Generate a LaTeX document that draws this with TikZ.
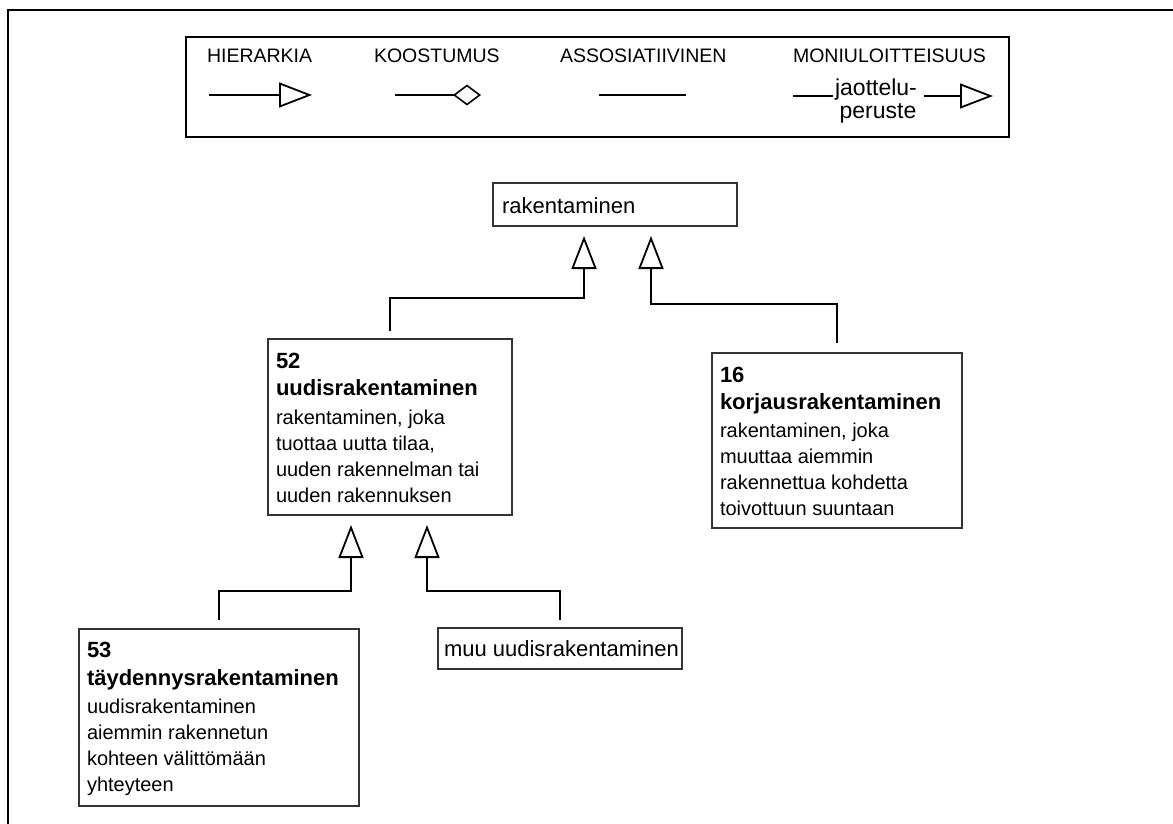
\documentclass[tikz,border=0pt]{standalone}
\usepackage{fontspec}
\setmainfont{Liberation Sans}
\usetikzlibrary{arrows.meta}
\begin{document}
\begin{tikzpicture}[x=1pt,y=-1pt,
  frame/.style={line width=2.2pt, black},
  box/.style={draw=black!80, line width=1.4pt, rectangle, inner sep=0pt, outer sep=0pt},
  txt/.style={anchor=base west, inner sep=0pt, outer sep=0pt},
  legtxt/.style={anchor=base west, inner sep=0pt, outer sep=0pt, font=\fontsize{19.5}{23}\selectfont},
  jtxt/.style={anchor=base, inner sep=0pt, outer sep=0pt, font=\fontsize{23}{23}\selectfont},
  conn/.style={line width=1.9pt, black},
  hier/.style={conn, -{Triangle[open,length=33pt,width=25pt,line width=1.8pt]}, shorten <=8pt, shorten >=10pt},
  legarrow/.style={conn, -{Triangle[open,length=33pt,width=25pt,line width=1.8pt]}},
  legdiamond/.style={conn, -{Diamond[open,length=28pt,width=21pt,line width=1.6pt]}},
  big/.style={font=\fontsize{22}{26}\selectfont}
]
\useasboundingbox (0,0) rectangle (1173,823);
% outer frame (top and left edges)
\coordinate (fTL) at (8,10);
\coordinate (fTR) at (1174,10);
\coordinate (fBL) at (8,824);
\draw[frame] (fTR) -- (fTL) -- (fBL);

% legend
\node[draw=black, line width=2.2pt, minimum width=823pt, minimum height=100pt, inner sep=0pt] (legend) at (597.5,87) {};
\node[legtxt] (lh) at (207,62.5) {HIERARKIA};
\node[legtxt] (lk) at (374,62.5) {KOOSTUMUS};
\node[legtxt] (la) at (560,62.5) {ASSOSIATIIVINEN};
\node[legtxt] (lm) at (793,62.5) {MONIULOITTEISUUS};
\coordinate (h1) at (209,95); \coordinate (h2) at (312,95);
\draw[legarrow] (h1) -- (h2);
\coordinate (k1) at (395,95); \coordinate (k2) at (481,95);
\draw[legdiamond] (k1) -- (k2);
\coordinate (a1) at (599,95); \coordinate (a2) at (686,95);
\draw[conn] (a1) -- (a2);
\node[jtxt] (jt) at (876,95) {jaottelu-};
\node[jtxt] (jp) at (878,118.5) {peruste};
\coordinate (m1) at (793,96);
\draw[conn] (m1) -- ([xshift=-2pt,yshift=-1pt]jt.base west);
\coordinate (m2) at (993,96);
\draw[legarrow] ([xshift=7pt,yshift=-1pt]jt.base east) -- (m2);

% boxes
\node[box, minimum width=244pt, minimum height=43pt] (rak) at (615,204.5) {};
\node[txt, big] (trak) at (502,213) {rakentaminen};

\node[box, minimum width=244pt, minimum height=176pt] (b52) at (390,427) {};
\node[txt] (t52) at (276,368) {\parbox[t]{232pt}{\raggedright\parskip=0pt
  \fontsize{22}{27.5}\selectfont\bfseries 52\\uudisrakentaminen\par\vspace{2.5pt}
  \fontsize{20}{26}\selectfont\mdseries rakentaminen, joka\\tuottaa uutta tilaa,\\uuden rakennelman tai\\uuden rakennuksen}};

\node[box, minimum width=250pt, minimum height=175pt] (b16) at (837,440.5) {};
\node[txt] (t16) at (720,382) {\parbox[t]{238pt}{\raggedright\parskip=0pt
  \fontsize{22}{27.5}\selectfont\bfseries 16\\korjausrakentaminen\par\vspace{1.5pt}
  \fontsize{20}{26}\selectfont\mdseries rakentaminen, joka\\muuttaa aiemmin\\rakennettua kohdetta\\toivottuun suuntaan}};

\node[box, minimum width=280pt, minimum height=177pt] (b53) at (219,717.5) {};
\node[txt] (t53) at (87,657) {\parbox[t]{268pt}{\raggedright\parskip=0pt
  \fontsize{22}{28}\selectfont\bfseries 53\\täydennysrakentaminen\par\vspace{2pt}
  \fontsize{20}{26}\selectfont\mdseries uudisrakentaminen\\aiemmin rakennetun\\kohteen välittömään\\yhteyteen}};

\node[box, minimum width=244pt, minimum height=41pt] (muu) at (560,648.5) {};
\node[txt, big] (tmuu) at (444,656.5) {muu uudisrakentaminen};

% connectors
\draw[hier] (b52.north) |- ([shift={(-31pt,-72pt)}]rak.south) -- ([xshift=-31pt]rak.south);
\draw[hier, shorten <=10pt] (b16.north) |- ([shift={(36pt,-78pt)}]rak.south) -- ([xshift=36pt]rak.south);
\draw[hier, shorten <=9pt] (b53.north) |- ([shift={(-39pt,-76pt)}]b52.south) -- ([xshift=-39pt]b52.south);
\draw[hier] (muu.north) |- ([shift={(37pt,-76pt)}]b52.south) -- ([xshift=37pt]b52.south);
\end{tikzpicture}
\end{document}
